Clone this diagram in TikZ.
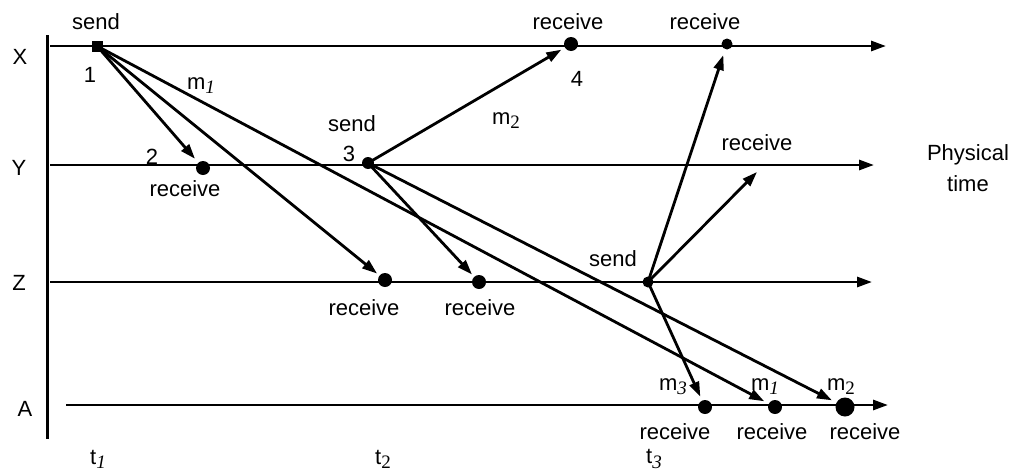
\documentclass[tikz,border=0pt]{standalone}
\usepackage{fontspec}
\setmainfont{Liberation Sans}
\newfontfamily\subserif{Liberation Serif}
\usetikzlibrary{arrows.meta}
\newcommand{\subi}[1]{\raisebox{-0.35ex}{\fontsize{19}{19}\subserif\itshape #1}}
\newcommand{\subu}[1]{\raisebox{-0.35ex}{\fontsize{19}{19}\subserif #1}}
\tikzset{
  every node/.style={font=\fontsize{22}{26}\selectfont, inner sep=0pt},
  timeline/.style={line width=2.8pt, -{Triangle[length=15pt,width=10pt]}},
  msg/.style={line width=2.8pt, -{Triangle[length=15pt,width=10pt]}},
  evdot/.style={circle, fill=black, minimum size=14pt, inner sep=0pt},
  bigdot/.style={circle, fill=black, minimum size=19pt, inner sep=0pt},
  sqdot/.style={rectangle, fill=black, minimum size=11pt, inner sep=0pt},
  lbl/.style={anchor=center}
}
\begin{document}
\begin{tikzpicture}[x=1pt,y=-1pt]
\useasboundingbox (0,0) rectangle (1017,474);
% axis
\coordinate (axtop) at (47,35);
\coordinate (axbot) at (47,439);
\draw[line width=3pt] (axtop) -- (axbot);
% timeline coordinates
\coordinate (xs) at (50,46);  \coordinate (xe) at (886,46);
\coordinate (ys) at (50,165); \coordinate (ye) at (874,165);
\coordinate (zs) at (50,282); \coordinate (ze) at (872,282);
\coordinate (as) at (66,405); \coordinate (ae) at (888,405);
\draw[timeline] (xs) -- (xe);
\draw[timeline] (ys) -- (ye);
\draw[timeline] (zs) -- (ze);
\draw[timeline] (as) -- (ae);
% events
\node[sqdot] (p1) at (97,46) {};
\node[evdot] (p2) at (203,168) {};
\node[evdot, minimum size=12pt] (p3) at (368,163) {};
\node[evdot] (p4) at (571,44) {};
\node[evdot, minimum size=11pt] (x5) at (727,44) {};
\node[evdot] (z1) at (385,280) {};
\node[evdot] (z2) at (479,282) {};
\node[evdot, minimum size=11pt] (zs1) at (648,282) {};
\node[evdot] (a3) at (705,407) {};
\node[evdot] (a1) at (775,407) {};
\node[bigdot] (a2) at (845,407) {};
\coordinate (free) at (757,172);
% messages
\draw[msg, shorten >=5pt] (p1.center) -- (p2);
\draw[msg, shorten >=3pt] (p1.center) -- (z1);
\draw[msg, shorten >=5pt] (p1.center) -- (a1);
\draw[msg, shorten >=4pt] (p3.center) -- (p4);
\draw[msg, shorten >=3pt] (p3.center) -- (z2);
\draw[msg, shorten >=5pt] (p3.center) -- (a2);
\draw[msg, shorten >=6pt] (zs1.center) -- (x5);
\draw[msg] (zs1.center) -- (free);
\draw[msg, shorten >=4pt] (zs1.center) -- (a3);
% labels
\node[lbl] (lX) at (20,57) {X};
\node[lbl] (lY) at (19,168) {Y};
\node[lbl] (lZ) at (19,283) {Z};
\node[lbl] (lA) at (25,409) {A};
\node[lbl] (s1) at (96,22) {send};
\node[lbl] (n1) at (90,75) {1};
\node[lbl] (m1) at (201,86) {m\subi{1}};
\node[lbl] (n2) at (152,157) {2};
\node[lbl] (r2) at (185,189) {receive};
\node[lbl] (s3) at (352,124) {send};
\node[lbl] (n3) at (349,154) {3};
\node[lbl] (r4) at (568,22) {receive};
\node[lbl] (n4) at (577,79) {4};
\node[lbl] (m2) at (506,121) {m\subu{2}};
\node[lbl] (r5) at (705,22) {receive};
\node[lbl] (ry) at (757,143) {receive};
\node[lbl] (ph) at (968,155) {Physical};
\node[lbl] (tm) at (968,184) {time};
\node[lbl] (sz) at (613,259) {send};
\node[lbl] (rz1) at (364,308) {receive};
\node[lbl] (rz2) at (480,308) {receive};
\node[lbl] (am3) at (673,387) {m\subi{3}};
\node[lbl] (am1) at (765,387) {m\subi{1}};
\node[lbl] (am2) at (841,387) {m\subu{2}};
\node[lbl] (ra3) at (675,432) {receive};
\node[lbl] (ra1) at (772,432) {receive};
\node[lbl] (ra2) at (865,432) {receive};
\node[lbl] (t1) at (98,459) {t\subi{1}};
\node[lbl] (t2) at (383,459) {t\subu{2}};
\node[lbl] (t3) at (654,459) {t\subi{3}};
\end{tikzpicture}
\end{document}
